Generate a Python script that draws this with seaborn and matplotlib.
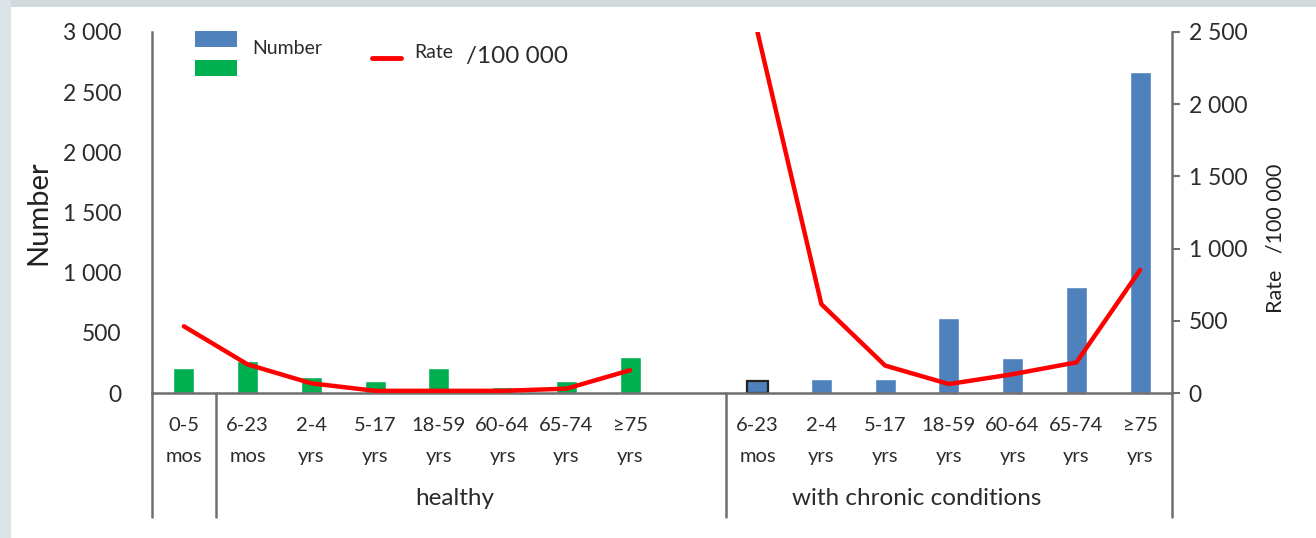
import numpy as np
import pandas as pd
import matplotlib
matplotlib.use("Agg")
import matplotlib.pyplot as plt
import matplotlib.transforms as mtransforms
from matplotlib.patches import Rectangle
from matplotlib.lines import Line2D
from matplotlib.ticker import FuncFormatter, FixedLocator
import seaborn as sns

# --- data ---
healthy_ages = ["0-5\nmos", "6-23\nmos", "2-4\nyrs", "5-17\nyrs",
                "18-59\nyrs", "60-64\nyrs", "65-74\nyrs", "\u226575\nyrs"]
chronic_ages = ["6-23\nmos", "2-4\nyrs", "5-17\nyrs", "18-59\nyrs",
                "60-64\nyrs", "65-74\nyrs", "\u226575\nyrs"]

healthy_number = [205, 262, 132, 103, 205, 50, 103, 298]
chronic_number = [97, 117, 117, 622, 287, 880, 2668]

healthy_rate = [462, 198, 67, 15, 15, 15, 30, 158]
chronic_rate = [2495, 615, 190, 62, 130, 212, 852]

GREEN = "#00B050"
BLUE = "#4F81BD"
RED = "#FF0000"
AXIS_GREY = "#6f6f6f"
TXT = "#2b2b2b"

# positions: healthy 0..7, empty slot 8, chronic 9..15
healthy_pos = list(range(len(healthy_ages)))
chronic_pos = [len(healthy_ages) + 1 + i for i in range(len(chronic_ages))]

df = pd.DataFrame({
    "pos": healthy_pos + chronic_pos,
    "number": healthy_number + chronic_number,
    "rate": healthy_rate + chronic_rate,
    "group": ["healthy"] * len(healthy_pos) + ["chronic"] * len(chronic_pos),
})

sns.set_theme(style="white")
plt.rcParams["font.family"] = ["Lato", "DejaVu Sans"]
plt.rcParams["text.color"] = TXT

fig = plt.figure(figsize=(13.16, 5.38), dpi=100)
W, H = 1316, 538

# background frame (slide-like border)
fig.add_artist(Rectangle((0, 1 - 7 / H), 1, 7 / H, transform=fig.transFigure,
                         facecolor="#d3dadd", edgecolor="none", zorder=-5))
fig.add_artist(Rectangle((0, 0), 11 / W, 1, transform=fig.transFigure,
                         facecolor="#dbe4e8", edgecolor="none", zorder=-5))

ax = fig.add_axes([152 / W, (H - 393) / H, (1172 - 152) / W, (393 - 32) / H])
ax.patch.set_alpha(0)

sns.barplot(data=df, x="pos", y="number", hue="group",
            palette={"healthy": GREEN, "chronic": BLUE},
            native_scale=True, dodge=False, width=0.33,
            saturation=1, legend=False, ax=ax, zorder=2)

# outline on the first chronic bar
for p in ax.patches:
    cx = p.get_x() + p.get_width() / 2
    if abs(cx - chronic_pos[0]) < 0.01:
        p.set_edgecolor("#222222")
        p.set_linewidth(1.6)

ax.set_xlim(-0.5, chronic_pos[-1] + 0.5)
ax.set_ylim(0, 3000)
ax.yaxis.set_major_locator(FixedLocator(np.arange(0, 3001, 500)))
fmt = FuncFormatter(lambda v, p: f"{int(v):,}".replace(",", " "))
ax.yaxis.set_major_formatter(fmt)
ax.tick_params(axis="y", length=0, pad=22, labelsize=16.5, labelcolor=TXT)
ax.set_xticks(healthy_pos + chronic_pos)
ax.set_xticklabels(healthy_ages + chronic_ages, linespacing=2.05)
ax.tick_params(axis="x", length=0, pad=17, labelsize=14.5, labelcolor=TXT)
ax.set_xlabel("")
ax.set_ylabel("Number", fontsize=21, labelpad=8, color="#222222")

for side in ["top", "right"]:
    ax.spines[side].set_visible(False)
for side in ["left", "bottom"]:
    ax.spines[side].set_color(AXIS_GREY)
    ax.spines[side].set_linewidth(1.8)

# rate on secondary axis
ax2 = ax.twinx()
sns.lineplot(data=df, x="pos", y="rate", hue="group",
             palette={"healthy": RED, "chronic": RED},
             linewidth=3.2, legend=False, ax=ax2, zorder=3)
ax2.set_ylim(0, 2500)
ax2.set_xlim(ax.get_xlim())
ax2.yaxis.set_major_locator(FixedLocator(np.arange(0, 2501, 500)))
ax2.yaxis.set_major_formatter(fmt)
ax2.tick_params(axis="y", direction="out", length=6, width=1.5, color=AXIS_GREY,
                pad=6, labelsize=16.5, labelcolor=TXT)
ax2.set_ylabel("")
for side in ["top", "left", "bottom"]:
    ax2.spines[side].set_visible(False)
ax2.spines["right"].set_color(AXIS_GREY)
ax2.spines["right"].set_linewidth(1.8)

# category divider lines below the axis
trans = mtransforms.blended_transform_factory(ax.transData, ax.transAxes)
drop = -(517 - 393) / (393 - 32)
for xd in [-0.5, 0.5, len(healthy_ages) + 0.5, chronic_pos[-1] + 0.5]:
    ax.add_line(Line2D([xd, xd], [0, drop], transform=trans, color=AXIS_GREY,
                       lw=1.8, clip_on=False))

ax.text(4.25, -0.293, "healthy", transform=trans, ha="center", va="center",
        fontsize=17.5, color=TXT)
ax.text(11.5, -0.293, "with chronic conditions", transform=trans, ha="center",
        va="center", fontsize=17.5, color=TXT)

# right axis label
fig.text(1276 / W, 1 - 238 / H, "Rate   /100 000", rotation=90, ha="center",
         va="center", fontsize=15.5, color="#222222")

# legend drawn by hand
lt = ax.transAxes
def ax_xy(px, py):
    return ((px - 152) / (1172 - 152), (393 - py) / (393 - 32))

x0, y0 = ax_xy(195, 47)
x1, y1 = ax_xy(237, 31)
ax.add_patch(Rectangle((x0, y0), x1 - x0, y1 - y0, transform=lt,
                       facecolor=BLUE, edgecolor="none", clip_on=False))
x0, y0 = ax_xy(195, 76)
x1, y1 = ax_xy(237, 60)
ax.add_patch(Rectangle((x0, y0), x1 - x0, y1 - y0, transform=lt,
                       facecolor=GREEN, edgecolor="none", clip_on=False))
tx, ty = ax_xy(252, 48)
ax.text(tx, ty, "Number", transform=lt, ha="left", va="center", fontsize=14,
        color=TXT)
lx0, ly = ax_xy(372, 58)
lx1, _ = ax_xy(401, 58)
ax.add_line(Line2D([lx0, lx1], [ly, ly], transform=lt, color=RED, lw=3.5,
                   clip_on=False))
tx, ty = ax_xy(414, 52)
ax.text(tx, ty, "Rate", transform=lt, ha="left", va="center", fontsize=14,
        color=TXT)
tx, ty = ax_xy(466, 56)
ax.text(tx, ty, "/100 000", transform=lt, ha="left", va="center", fontsize=17.5,
        color=TXT)

fig.savefig("out.png", dpi=100)
